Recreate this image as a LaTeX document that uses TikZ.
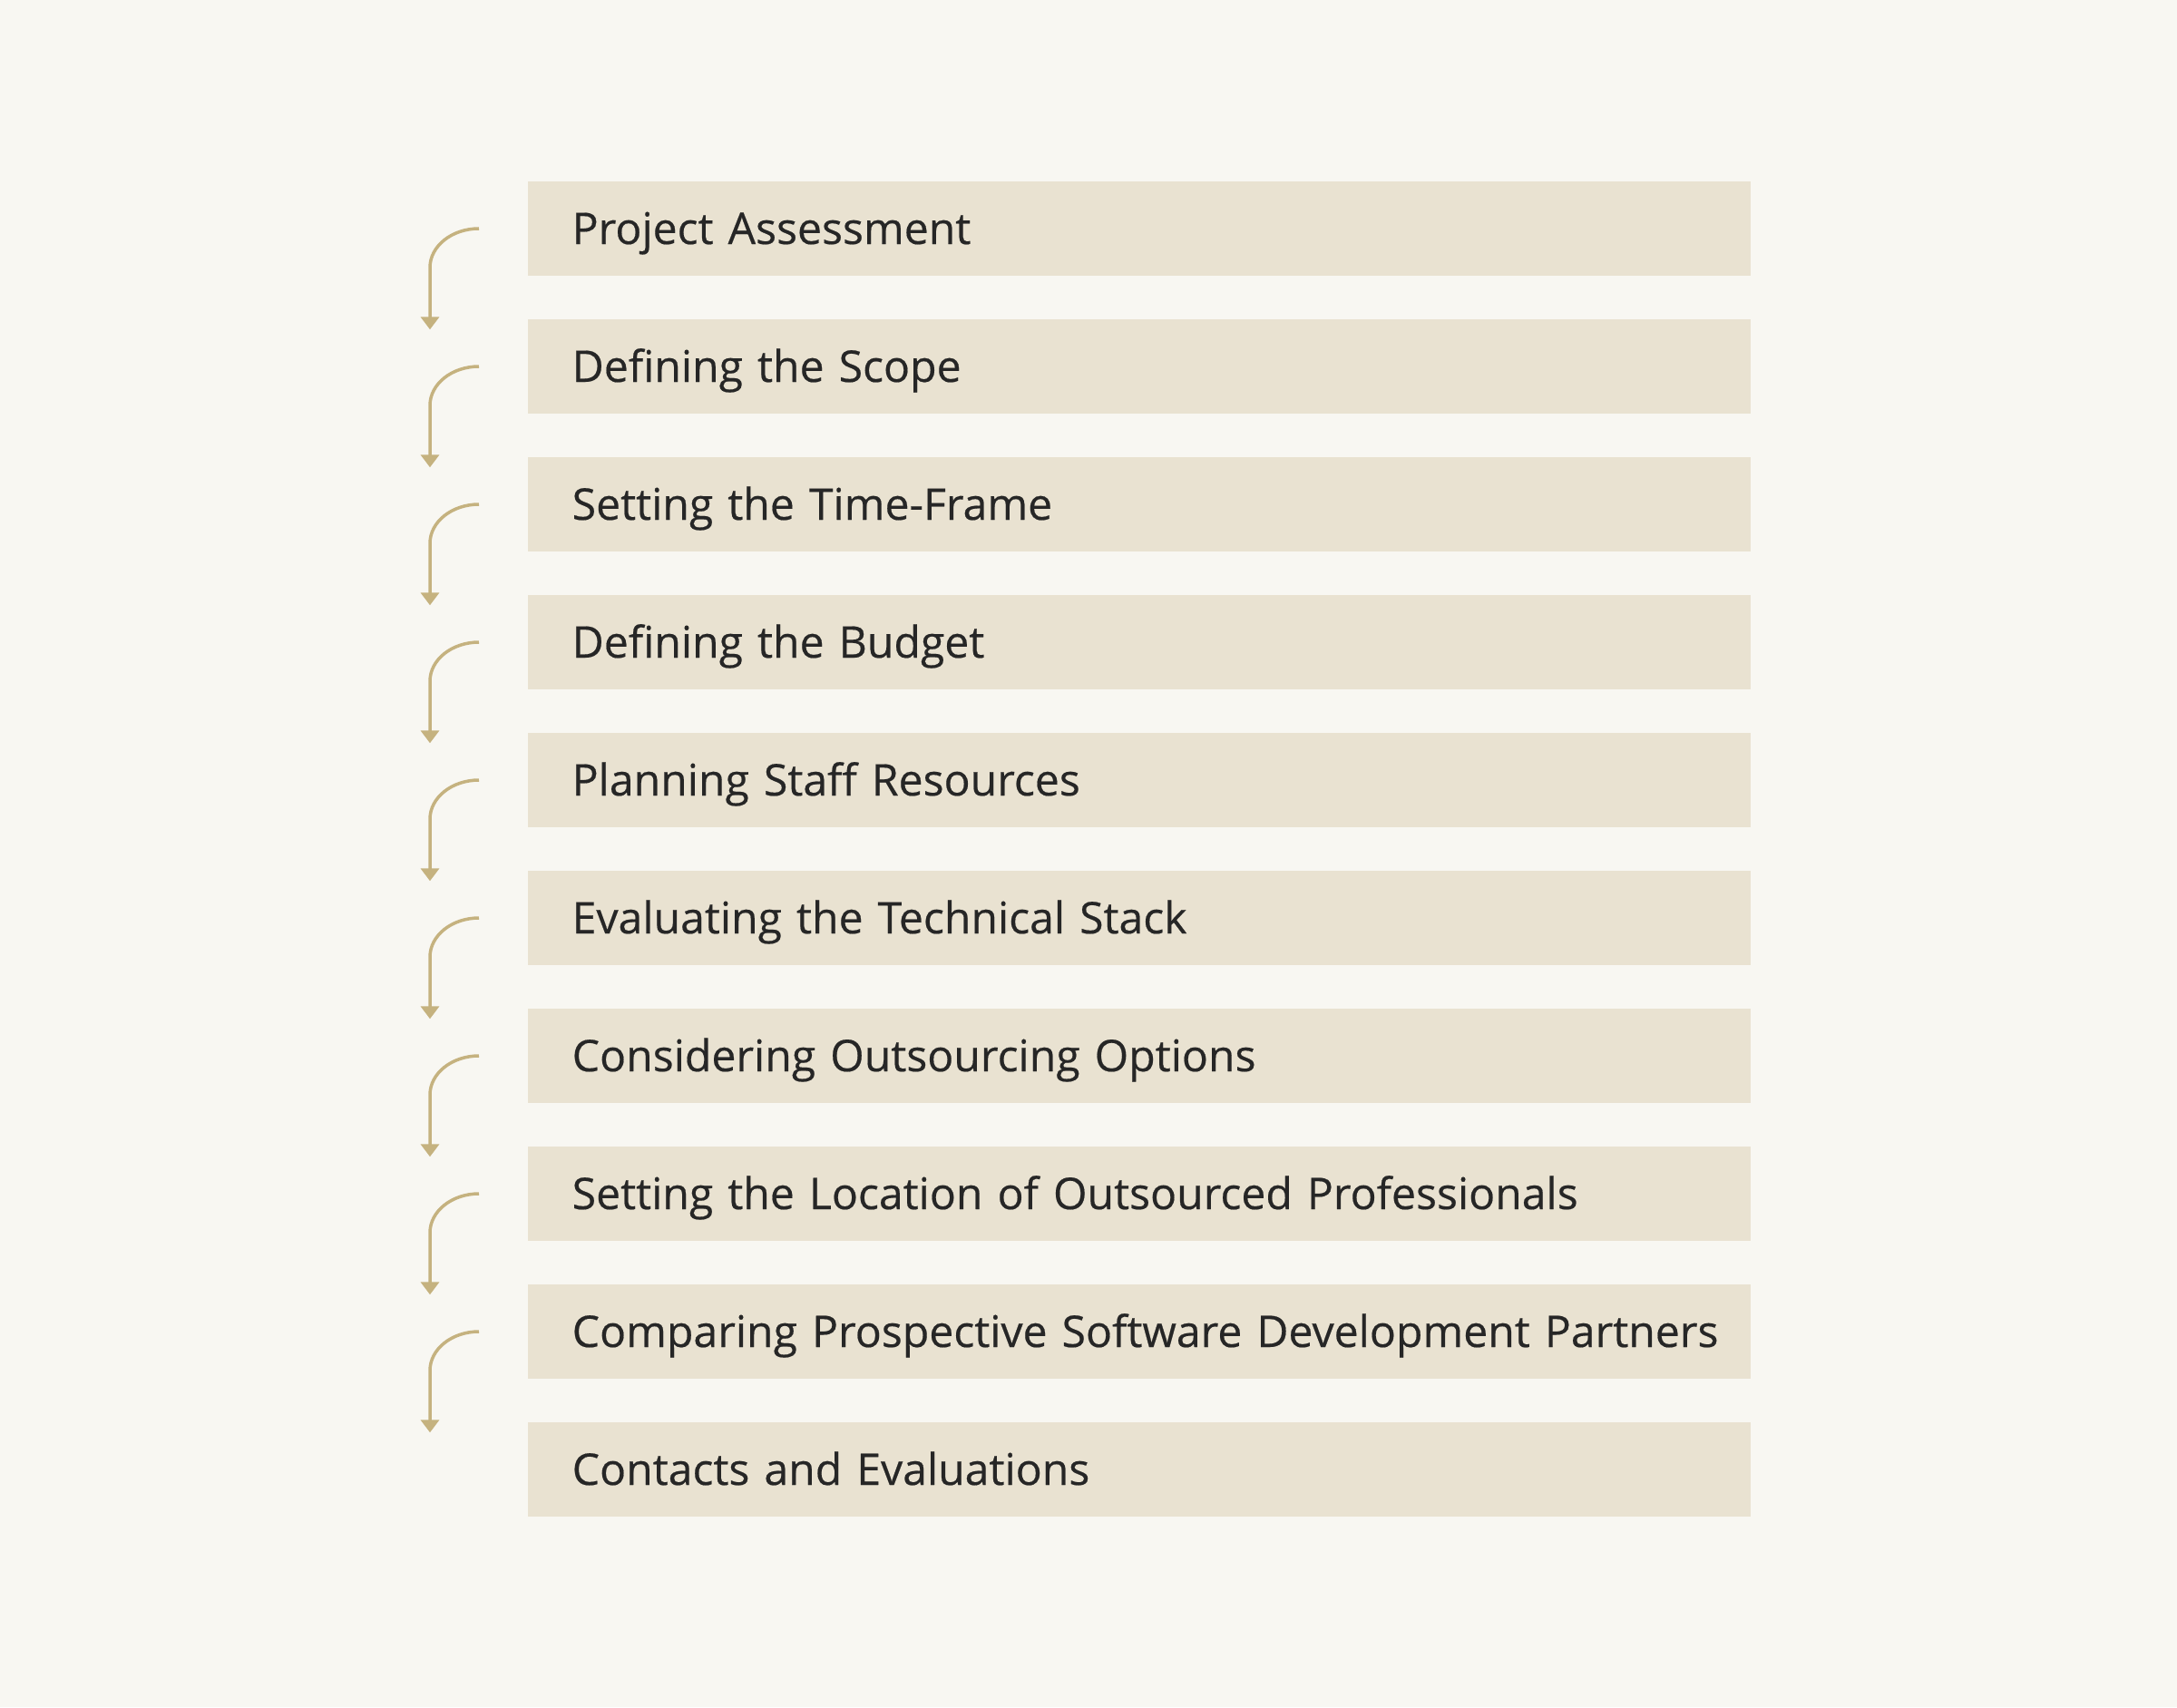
\documentclass[tikz,border=0pt]{standalone}
\usepackage{fontspec}
\setmainfont{Open Sans}[FakeBold=0.4]
\usetikzlibrary{arrows.meta}
\definecolor{pagebg}{HTML}{F8F7F2}
\definecolor{stepfill}{HTML}{E9E2D1}
\definecolor{flowline}{HTML}{C5B27F}
\definecolor{steptext}{HTML}{262626}
\begin{document}
\begin{tikzpicture}[stepBox/.style={anchor=west, fill=stepfill, text=steptext, minimum height=1.04cm, inner ysep=0pt, inner xsep=0.49cm, text width=12.50cm, align=left, text height=0.34cm, text depth=0pt, font=\fontsize{13.7pt}{15pt}\selectfont, execute at begin node=\leavevmode\hbox\bgroup, execute at end node=\egroup},
                    flowArrow/.style={draw=flowline, line width=1pt, -{Triangle[width=2mm, length=1.4mm]}}]
                    \fill[pagebg] (0,0) rectangle (24,-18.82);
                    \useasboundingbox (0,0) rectangle (24,-18.82);
                    \node[stepBox](s1) at (5.81, -2.52) {Project Assessment};
                    \node[stepBox](s2) at (5.81, -4.04) {Defining the Scope};
                    \node[stepBox](s3) at (5.81, -5.56) {Setting the Time-Frame};
                    \node[stepBox](s4) at (5.81, -7.08) {Defining the Budget};
                    \node[stepBox](s5) at (5.81, -8.60) {Planning Staff Resources};
                    \node[stepBox](s6) at (5.81, -10.12) {Evaluating the Technical Stack};
                    \node[stepBox](s7) at (5.81, -11.64) {Considering Outsourcing Options};
                    \node[stepBox](s8) at (5.81, -13.16) {Setting the Location of Outsourced Professionals};
                    \node[stepBox](s9) at (5.81, -14.68) {Comparing Prospective Software Development Partners};
                    \node[stepBox](s10) at (5.81, -16.20) {Contacts and Evaluations};

                    \foreach \a/\b in {s1/s2, s2/s3, s3/s4, s4/s5, s5/s6, s6/s7, s7/s8, s8/s9, s9/s10}
                        \draw[flowArrow] ([xshift=-5.3mm]\a.west) arc[start angle=90, end angle=180, x radius=0.54cm, y radius=0.43cm] -- ([xshift=-10.7mm, yshift=-1.2mm]\b.north west);
                \end{tikzpicture}
\end{document}
